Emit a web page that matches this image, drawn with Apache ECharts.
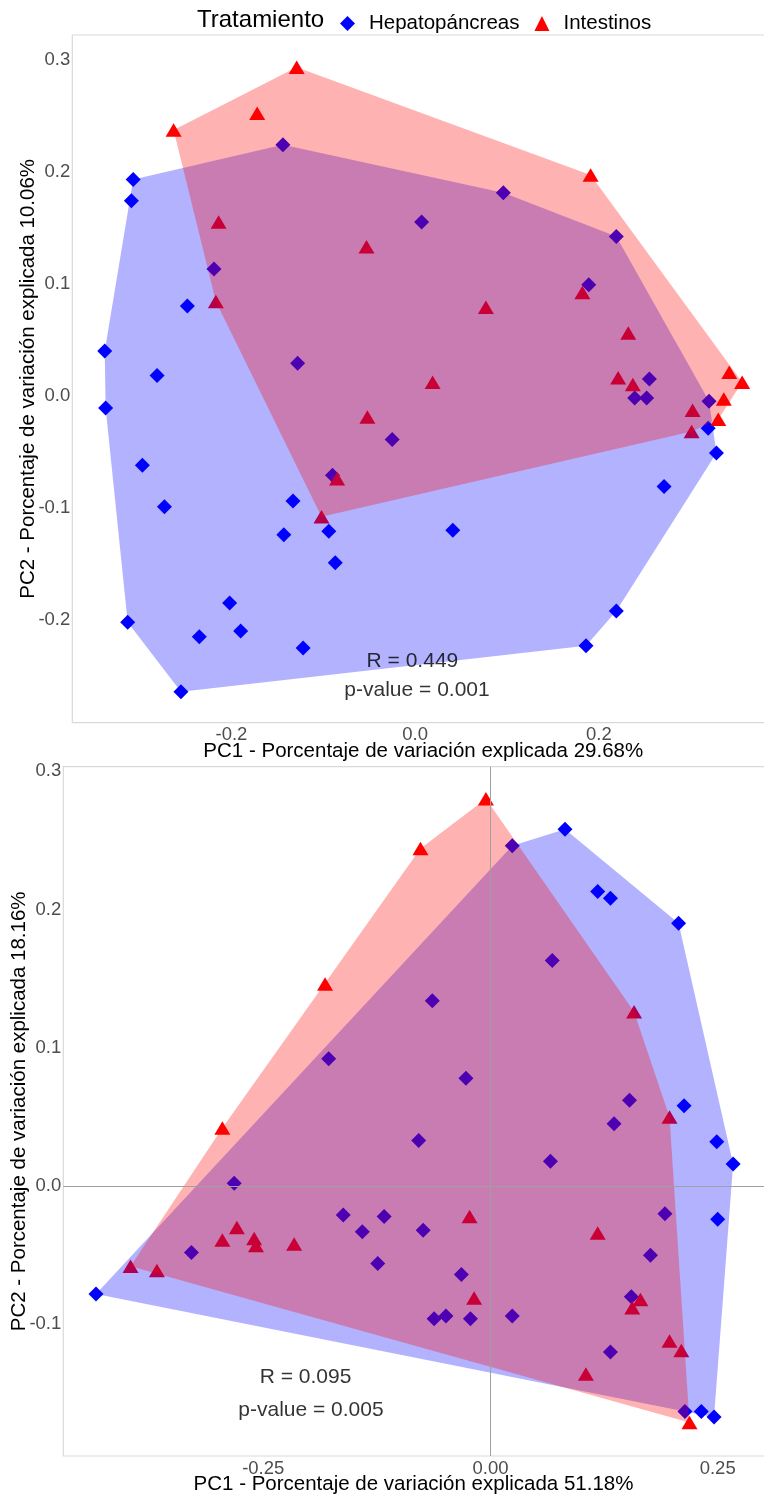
<!DOCTYPE html>
<html>
<head>
<meta charset="utf-8">
<script src="https://cdn.jsdelivr.net/npm/echarts@6/dist/echarts.min.js"></script>
<style>
  html, body { margin: 0; padding: 0; background: #ffffff; }
  #chart { width: 764px; height: 1496px; }
</style>
</head>
<body>
<div id="chart"></div>
<script>
// PCoA scores, panel 1 (PC1 29.68 % / PC2 10.06 %)
const hepatoTop = [
  [-0.307, 0.193], [-0.309, 0.174], [-0.219, 0.113], [-0.248, 0.080], [-0.338, 0.040],
  [-0.281, 0.018], [-0.337, -0.011], [-0.297, -0.062], [-0.273, -0.099], [-0.202, -0.185],
  [-0.313, -0.202], [-0.235, -0.215], [-0.190, -0.210], [-0.255, -0.264], [-0.144, 0.224],
  [0.096, 0.181], [0.007, 0.155], [0.219, 0.142], [0.189, 0.099], [-0.128, 0.029],
  [0.255, 0.015], [0.239, -0.002], [0.252, -0.002], [0.320, -0.005], [0.319, -0.029],
  [0.328, -0.051], [0.271, -0.081], [-0.025, -0.039], [-0.090, -0.071], [-0.133, -0.094],
  [-0.143, -0.124], [-0.094, -0.121], [0.041, -0.120], [-0.087, -0.149], [0.219, -0.192],
  [0.186, -0.223], [-0.122, -0.225]
];
const intestTop = [
  [-0.263, 0.237], [-0.172, 0.252], [-0.214, 0.155], [-0.217, 0.084], [-0.129, 0.293],
  [-0.053, 0.133], [0.191, 0.197], [0.182, 0.092], [0.077, 0.079], [0.232, 0.056],
  [0.019, 0.012], [0.221, 0.016], [0.237, 0.010], [0.342, 0.021], [0.356, 0.012],
  [0.336, -0.003], [0.302, -0.013], [0.330, -0.021], [0.301, -0.032], [-0.052, -0.019],
  [-0.085, -0.074], [-0.102, -0.108]
];

// PCoA scores, panel 2 (PC1 51.18 % / PC2 18.16 %)
const hepatoBottom = [
  [0.024, 0.246], [0.082, 0.258], [0.118, 0.213], [0.132, 0.208], [0.207, 0.190],
  [0.068, 0.163], [-0.064, 0.134], [-0.178, 0.092], [-0.027, 0.078], [0.153, 0.062],
  [0.213, 0.058], [0.136, 0.045], [-0.079, 0.033], [0.249, 0.032], [0.267, 0.016],
  [0.066, 0.018], [0.192, -0.020], [0.250, -0.024], [-0.162, -0.021], [-0.117, -0.022],
  [-0.141, -0.033], [-0.074, -0.032], [-0.124, -0.056], [0.176, -0.050], [-0.032, -0.064],
  [0.155, -0.080], [-0.062, -0.096], [-0.049, -0.094], [-0.022, -0.096], [0.024, -0.094],
  [0.132, -0.120], [0.214, -0.163], [0.232, -0.163], [0.246, -0.167], [-0.282, 0.002],
  [-0.329, -0.048], [-0.434, -0.078]
];
const intestBottom = [
  [-0.005, 0.280], [-0.077, 0.244], [-0.182, 0.146], [0.158, 0.126], [0.197, 0.050],
  [-0.023, -0.022], [0.118, -0.034], [-0.018, -0.081], [0.165, -0.082], [0.156, -0.088],
  [0.197, -0.112], [0.210, -0.119], [0.105, -0.136], [0.219, -0.171], [-0.295, 0.042],
  [-0.279, -0.030], [-0.295, -0.039], [-0.260, -0.038], [-0.258, -0.043], [-0.216, -0.042],
  [-0.396, -0.058], [-0.367, -0.061]
];

// Tick values
const xTicksTop = [-0.2, 0.0, 0.2];
const yTicksTop = [-0.2, -0.1, 0.0, 0.1, 0.2, 0.3];
const xTicksBottom = [-0.25, 0.0, 0.25];
const yTicksBottom = [-0.1, 0.0, 0.1, 0.2, 0.3];

// ANOSIM statistics shown in each panel, anchored in data units
const statsTop = [
  { name: 'R = 0.449', value: [-0.003, -0.237] },
  { name: 'p-value = 0.001', value: [0.002, -0.263] }
];
const statsBottom = [
  { name: 'R = 0.095', value: [-0.2035, -0.1385] },
  { name: 'p-value = 0.005', value: [-0.1975, -0.162] }
];

const groupNames = ['Hepatopáncreas', 'Intestinos'];
const axisTitles = {
  xTop: 'PC1 - Porcentaje de variación explicada 29.68%',
  yTop: 'PC2 - Porcentaje de variación explicada 10.06%',
  xBottom: 'PC1 - Porcentaje de variación explicada 51.18%',
  yBottom: 'PC2 - Porcentaje de variación explicada 18.16%'
};

const FONT = "'Liberation Sans', Arial, Helvetica, sans-serif";
const BLUE = '#0000ff';
const RED = '#ff0000';

// Monotone-chain convex hull
function convexHull(points) {
  const pts = points.slice().sort((a, b) => a[0] - b[0] || a[1] - b[1]);
  const cross = (o, a, b) => (a[0] - o[0]) * (b[1] - o[1]) - (a[1] - o[1]) * (b[0] - o[0]);
  const lower = [];
  for (const p of pts) {
    while (lower.length >= 2 && cross(lower[lower.length - 2], lower[lower.length - 1], p) <= 0) lower.pop();
    lower.push(p);
  }
  const upper = [];
  for (let i = pts.length - 1; i >= 0; i--) {
    const p = pts[i];
    while (upper.length >= 2 && cross(upper[upper.length - 2], upper[upper.length - 1], p) <= 0) upper.pop();
    upper.push(p);
  }
  upper.pop(); lower.pop();
  return lower.concat(upper);
}

function hullSeries(points, color, idx, z) {
  const hull = convexHull(points);
  return {
    type: 'custom',
    xAxisIndex: idx, yAxisIndex: idx,
    z: z, silent: true,
    data: hull,
    encode: { x: 0, y: 1 },
    renderItem: function (params, api) {
      if (params.dataIndex !== 0) return null;
      return {
        type: 'polygon',
        shape: { points: hull.map(p => api.coord(p)) },
        style: { fill: color, stroke: null }
      };
    }
  };
}

function scatterSeries(name, points, symbol, size, color, idx, extra) {
  return Object.assign({
    name: name,
    type: 'scatter',
    xAxisIndex: idx, yAxisIndex: idx,
    data: points,
    symbol: symbol,
    symbolSize: size,
    itemStyle: { color: color, opacity: 1 },
    z: 2, silent: true
  }, extra || {});
}

function statSeries(items, idx) {
  return {
    name: 'stats' + idx,
    type: 'scatter',
    xAxisIndex: idx, yAxisIndex: idx,
    data: items,
    symbolSize: 0.01,
    itemStyle: { color: 'rgba(0,0,0,0)' },
    z: 5, silent: true,
    label: {
      show: true, position: 'inside', formatter: '{b}',
      color: '#000', fontSize: 21, fontFamily: FONT
    }
  };
}

function xAxis(idx, min, max, ticks, digits, title, gap, namePad) {
  return {
    type: 'value', gridIndex: idx, min: min, max: max,
    axisLine: { show: false }, axisTick: { show: false }, splitLine: { show: false },
    axisLabel: {
      customValues: ticks, formatter: v => v.toFixed(digits),
      margin: 3, fontSize: 18.5, color: '#4d4d4d', fontFamily: FONT
    },
    name: title, nameLocation: 'middle', nameGap: gap, nameMoveOverlap: false,
    nameTextStyle: { fontSize: 20.5, color: '#000', fontFamily: FONT, padding: namePad }
  };
}

function yAxis(idx, min, max, ticks, title, gap) {
  return {
    type: 'value', gridIndex: idx, min: min, max: max,
    axisLine: { show: false }, axisTick: { show: false }, splitLine: { show: false },
    axisLabel: {
      customValues: ticks, formatter: v => v.toFixed(1),
      margin: 2, fontSize: 18.5, color: '#4d4d4d', fontFamily: FONT
    },
    name: title, nameLocation: 'middle', nameGap: gap, nameRotate: 90, nameMoveOverlap: false,
    nameTextStyle: { fontSize: 20.5, color: '#000', fontFamily: FONT }
  };
}

const chart = echarts.init(document.getElementById('chart'), null, { renderer: 'canvas' });

chart.setOption({
  animation: false,
  backgroundColor: '#ffffff',
  title: {
    text: 'Tratamiento', left: 197, top: 8, padding: 0,
    textStyle: { fontSize: 24, fontWeight: 'normal', color: '#000', fontFamily: FONT }
  },
  legend: {
    data: [
      { name: groupNames[0], icon: 'diamond' },
      { name: groupNames[1], icon: 'triangle' }
    ],
    left: 340, top: 13, padding: 0,
    itemWidth: 15, itemHeight: 15, itemGap: 15,
    selectedMode: false,
    textStyle: { fontSize: 20.5, color: '#000', fontFamily: FONT, padding: [0, 0, 0, 9] }
  },
  grid: [
    { left: 72.3, top: 35, width: 702, height: 687.7, show: true, outerBoundsMode: 'none',
      borderColor: '#d9d9d9', borderWidth: 1.2, backgroundColor: 'transparent' },
    { left: 63.3, top: 766.7, width: 711, height: 689.3, show: true, outerBoundsMode: 'none',
      borderColor: '#d9d9d9', borderWidth: 1.2, backgroundColor: 'transparent' }
  ],
  xAxis: [
    xAxis(0, -0.3733, 0.391, xTicksTop, 1, axisTitles.xTop, 18, [0, 0, 0, 0]),
    xAxis(1, -0.470, 0.3123, xTicksBottom, 2, axisTitles.xBottom, 17.5, [0, 10.6, 0, 0])
  ],
  yAxis: [
    yAxis(0, -0.2917, 0.3218, yTicksTop, axisTitles.yTop, 33.5),
    yAxis(1, -0.1952, 0.3032, yTicksBottom, axisTitles.yBottom, 33)
  ],
  series: [
    // panel 1
    scatterSeries(groupNames[0], hepatoTop, 'diamond', 15, BLUE, 0),
    scatterSeries(groupNames[1], intestTop, 'triangle', [16, 13.5], RED, 0),
    hullSeries(hepatoTop, 'rgba(0,0,255,0.3)', 0, 3),
    hullSeries(intestTop, 'rgba(255,0,0,0.3)', 0, 4),
    statSeries(statsTop, 0),
    // panel 2
    scatterSeries(groupNames[0], hepatoBottom, 'diamond', 15, BLUE, 1, {
      markLine: {
        silent: true, symbol: ['none', 'none'], animation: false,
        label: { show: false },
        lineStyle: { color: '#a0a0a0', width: 1, type: 'solid' },
        emphasis: { disabled: true },
        data: [{ xAxis: 0 }, { yAxis: 0 }]
      }
    }),
    scatterSeries(groupNames[1], intestBottom, 'triangle', [16, 13.5], RED, 1),
    hullSeries(hepatoBottom, 'rgba(0,0,255,0.3)', 1, 3),
    hullSeries(intestBottom, 'rgba(255,0,0,0.3)', 1, 4),
    statSeries(statsBottom, 1)
  ]
});
</script>
</body>
</html>
